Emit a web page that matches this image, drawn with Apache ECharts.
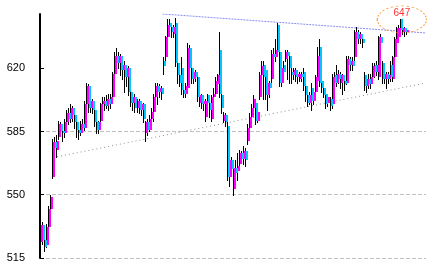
<!DOCTYPE html>
<html><head><meta charset="utf-8">
<script src="https://cdn.jsdelivr.net/npm/echarts@6/dist/echarts.min.js"></script>
<style>html,body{margin:0;padding:0;background:#fff}#c{width:434px;height:272px}</style>
</head><body><div id="c"></div>
<script>
const opens = [524,533,525,522,532,542,560,579,575,582,589,585,584,590,595,592,598,594,590,586,584,589,587,600,610,598,602,597,590,586,591,600,602,599,603,600,604,617,627,623,627,619,622,615,620,607,601,604,598,602,597,600,584,590,586,592,596,604,610,607,609,624,626,637,645,643,639,645,623,616,620,608,606,609,631,620,614,618,615,601,605,600,593,605,601,592,604,606,611,630,605,591,594,588,560,569,553,565,563,567,573,570,574,580,587,593,598,601,591,604,616,622,619,605,612,614,628,626,644,629,612,622,625,629,627,618,616,619,615,614,617,618,610,605,601,609,602,607,613,632,613,609,606,601,603,600,616,612,617,612,616,613,612,625,622,624,626,640,636,639,636,616,610,614,611,615,622,618,615,637,623,614,617,614,622,614,626,634,637,647,640,642,640];
const closes = [533,525,521,532,542,549,579,576,580,589,585,584,590,595,592,598,594,590,586,584,589,587,600,610,598,602,597,590,586,590,600,602,599,603,600,604,617,627,623,627,619,622,615,620,607,601,604,598,602,597,600,592,590,586,592,596,604,610,607,609,606,621,637,644,643,640,643,623,616,612,608,606,610,631,620,614,618,615,604,605,600,602,602,601,597,604,606,613,616,606,598,594,590,560,569,564,565,562,566,573,570,574,569,587,593,598,603,591,596,616,621,615,605,612,609,628,626,630,629,612,620,618,629,627,620,616,619,615,617,617,615,610,605,601,605,602,607,615,627,612,609,605,600,604,599,615,612,617,614,616,613,611,625,622,624,621,640,636,639,636,634,610,614,611,615,621,618,622,637,634,614,617,614,616,615,626,636,642,642,641,642,640,641];
const lows = [522,523,519,521,531,540,559,572,571,581,583,580,582,588,589,590,591,587,582,581,583,585,586,598,596,596,595,588,584,584,590,598,597,598,597,598,603,615,620,620,616,614,607,610,605,599,597,596,596,595,594,590,580,583,585,589,591,602,600,604,603,617,624,636,639,637,637,621,612,610,606,604,604,607,618,612,612,613,602,599,598,597,591,600,593,591,602,605,609,604,595,590,588,558,555,562,550,560,558,565,568,567,566,578,585,590,596,589,590,603,614,603,603,597,604,612,624,624,627,610,610,615,624,614,612,612,614,613,612,613,613,608,602,599,600,597,600,605,611,610,607,604,598,599,597,598,607,610,612,609,606,608,611,620,619,619,624,634,634,634,632,608,607,609,609,613,615,616,614,632,612,612,609,612,613,613,625,632,635,639,639,638,639];
const highs = [535,535,526,534,544,550,581,582,583,591,590,587,592,597,598,600,599,596,592,589,591,592,602,612,611,604,603,598,592,591,601,604,604,605,606,606,618,629,631,629,628,624,624,621,621,608,605,606,603,603,601,601,591,592,594,598,606,612,612,611,610,626,638,647,647,645,644,648,624,618,626,610,612,634,633,622,620,619,616,606,606,604,603,606,604,605,609,615,617,640,606,596,595,590,570,571,567,569,573,575,574,577,576,589,595,600,605,603,598,618,624,624,620,614,613,630,631,636,645,634,621,624,630,630,628,620,620,620,619,618,618,620,611,607,607,612,609,616,632,636,614,611,608,605,604,617,618,622,619,618,617,615,627,627,626,626,641,643,641,640,638,618,616,617,617,623,623,624,638,639,624,619,618,618,624,627,637,643,644,647,643,643,642];
const yTicks = [515, 550, 585, 620];
const upperTrend = [[61, 650], [192, 639.5]];
const lowerTrend = [[8.5, 571], [190.5, 611.5]];
const markIndex = 179;

const candleData = opens.map((o, i) => [i, o, closes[i], lows[i], highs[i]]);

function renderWick(params, api) {
  const i = api.value(0), l = api.value(3), h = api.value(4);
  const pL = api.coord([i, l]), pH = api.coord([i, h]);
  const x = Math.round(pL[0]);
  return { type: 'line', shape: { x1: x + 0.5, y1: Math.round(pH[1]), x2: x + 0.5, y2: Math.round(pL[1]) + 1 },
    style: { stroke: '#000', lineWidth: 1 } };
}
function renderBody(params, api) {
  const i = api.value(0), o = api.value(1), c = api.value(2);
  const pO = api.coord([i, o]), pC = api.coord([i, c]);
  const x = Math.round(pO[0]);
  const top = Math.round(Math.min(pO[1], pC[1]));
  const bot = Math.round(Math.max(pO[1], pC[1]));
  return { type: 'rect', shape: { x: x + 1, y: top, width: 2, height: Math.max(2, bot - top) },
    style: { fill: c >= o ? '#ff00ff' : '#00c8ff' } };
}

const ellipse = 'path://M0,50 C0,22.4 22.4,0 50,0 C77.6,0 100,22.4 100,50 C100,77.6 77.6,100 50,100 C22.4,100 0,77.6 0,50 Z';

const chart = echarts.init(document.getElementById('c'), null, { renderer: 'canvas' });
chart.setOption({
  animation: false,
  backgroundColor: '#fff',
  grid: { left: 40, right: 8, top: 14, bottom: 14 },
  xAxis: { type: 'value', min: 0, max: 192, show: false },
  yAxis: {
    type: 'value', min: 515, max: 650, interval: 35,
    axisLine: { show: true, lineStyle: { color: '#000', width: 2 } },
    axisTick: { show: true, inside: true, length: 4, lineStyle: { color: '#000' }, customValues: yTicks },
    axisLabel: { color: '#000', fontSize: 11, fontFamily: 'Liberation Sans', margin: 15, customValues: yTicks },
    splitLine: { show: true, showMaxLine: false, lineStyle: { color: '#c0c0c0', type: [4, 2] } }
  },
  series: [
    { type: 'line', data: upperTrend, symbol: 'none', silent: true, z: 1,
      lineStyle: { color: '#8c8cf0', width: 1, type: [2, 1] } },
    { type: 'line', data: lowerTrend, symbol: 'none', silent: true, z: 1,
      lineStyle: { color: '#909090', width: 1, type: [1, 3] } },
    { type: 'custom', renderItem: renderWick, data: candleData, silent: true, z: 2,
      encode: { x: 0, y: [3, 4] } },
    { type: 'custom', renderItem: renderBody, data: candleData, silent: true, z: 3,
      encode: { x: 0, y: [1, 2] } },
    { type: 'scatter', silent: true, z: 5,
      data: [[markIndex, highs[markIndex]]],
      symbol: ellipse, symbolSize: [49, 27], symbolOffset: [2, 0],
      itemStyle: { color: 'transparent', borderColor: '#ff8c1a', borderWidth: 1, borderType: [2, 2] },
      label: { show: true, position: 'inside', offset: [0, -6], formatter: String(highs[markIndex]),
        color: '#ff0000', fontSize: 10, fontFamily: 'Liberation Sans' } }
  ]
});
</script>
</body></html>
